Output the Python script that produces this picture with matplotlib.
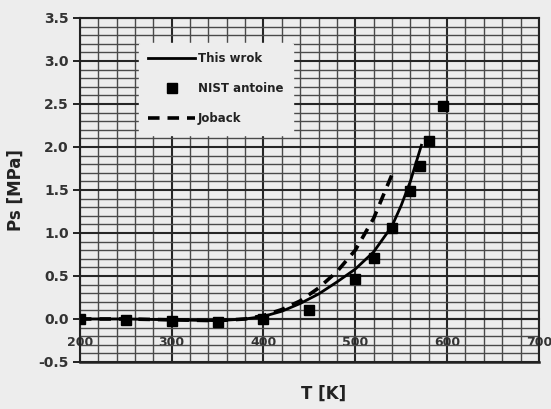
import matplotlib
matplotlib.use("Agg")
import matplotlib.pyplot as plt
from matplotlib.ticker import MultipleLocator, FormatStrFormatter

# NIST antoine points
nist_T = [200, 250, 300, 350, 400, 450, 500, 520, 540, 560, 570, 580, 596]
nist_P = [0.0, -0.01, -0.02, -0.03, 0.0, 0.10, 0.47, 0.71, 1.06, 1.49, 1.78, 2.07, 2.48]

# This work (solid)
work_T = [200, 250, 300, 350, 380, 400, 420, 440, 460, 480, 500, 520, 540, 550, 560, 572]
work_P = [0.0, 0.0, -0.01, -0.02, 0.0, 0.03, 0.09, 0.18, 0.29, 0.43, 0.58, 0.78, 1.08, 1.32, 1.60, 2.02]

# Joback (dashed)
job_T = [200, 250, 300, 350, 380, 400, 420, 440, 460, 480, 500, 520, 540]
job_P = [0.0, 0.0, -0.01, -0.02, 0.0, 0.04, 0.11, 0.21, 0.36, 0.55, 0.80, 1.17, 1.68]

bg = "#ededed"
plt.rcParams["font.family"] = "DejaVu Sans"

fig = plt.figure(figsize=(5.51, 4.09), dpi=100, facecolor=bg)
ax = fig.add_axes([0.145, 0.115, 0.833, 0.841])
ax.set_facecolor(bg)

ax.plot(work_T, work_P, color="black", lw=2.0, label="This wrok", zorder=3)
ax.plot(nist_T, nist_P, ls="none", marker="s", ms=7, color="black",
        label="NIST antoine", zorder=4)
ax.plot(job_T, job_P, color="black", lw=2.6, ls=(0, (3.2, 2.2)),
        label="Joback", zorder=3)

ax.set_xlim(200, 700)
ax.set_ylim(-0.5, 3.5)
ax.xaxis.set_major_locator(MultipleLocator(100))
ax.xaxis.set_minor_locator(MultipleLocator(20))
ax.yaxis.set_major_locator(MultipleLocator(0.5))
ax.yaxis.set_minor_locator(MultipleLocator(0.1))
ax.yaxis.set_major_formatter(FormatStrFormatter("%.1f"))

ax.grid(which="major", color="#262626", lw=1.5, zorder=1)
ax.grid(which="minor", color="#4a4a4a", lw=1.0, zorder=1)
ax.set_axisbelow(True)

for s in ["top", "right", "left"]:
    ax.spines[s].set_color("#222222")
    ax.spines[s].set_linewidth(1.5)
ax.spines["bottom"].set_position(("data", 0))
ax.spines["bottom"].set_color("#222222")
ax.spines["bottom"].set_linewidth(1.5)
ax.axhline(-0.5, color="#222222", lw=1.8, clip_on=False, zorder=2)

ax.tick_params(axis="y", which="major", length=5, width=1.2, direction="out",
               labelsize=10, pad=3)
ax.tick_params(axis="x", which="major", length=0, labelsize=9, pad=12)
ax.tick_params(which="minor", length=0)
for lab in ax.get_xticklabels() + ax.get_yticklabels():
    lab.set_fontweight("bold")
    lab.set_color("#333333")

ax.set_ylabel("Ps [MPa]", fontsize=12, fontweight="bold", color="#222222",
              labelpad=10)
ax.set_xlabel("T [K]", fontsize=12, fontweight="bold", color="#222222",
              labelpad=6)
ax.xaxis.set_label_coords(0.53, -0.065)

leg = ax.legend(loc="upper left", bbox_to_anchor=(0.115, 0.945), frameon=True,
                facecolor=bg, edgecolor=bg, framealpha=1,
                prop={"size": 8.5, "weight": "bold"},
                handlelength=4.0, labelspacing=1.45, borderpad=0.8,
                handletextpad=0.2)
leg.set_zorder(5)
for t in leg.get_texts():
    t.set_color("#222222")

fig.savefig("out.png", dpi=100, facecolor=bg)
